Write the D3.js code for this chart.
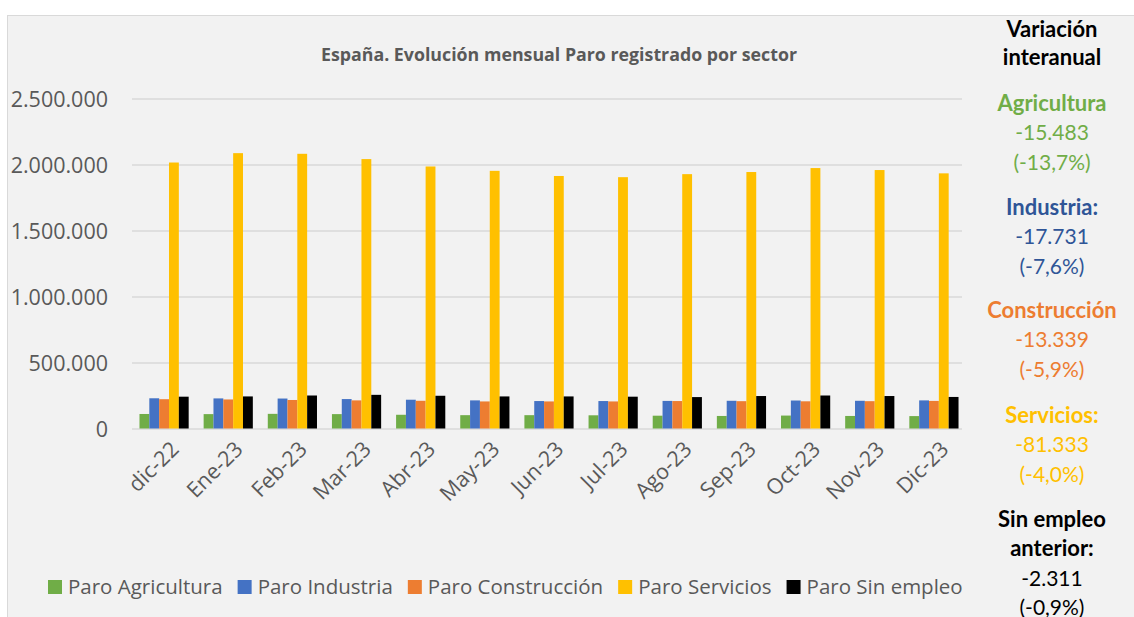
<!DOCTYPE html>
<html>
<head>
<meta charset="utf-8">
<script src="https://cdn.jsdelivr.net/npm/d3@7"></script>
<style>
  html, body { margin: 0; padding: 0; background: #ffffff; }
  svg { display: block; }
</style>
</head>
<body>
<svg id="chart" width="1134" height="617"></svg>
<script>
// ---------- Data ----------
const months = ["dic-22","Ene-23","Feb-23","Mar-23","Abr-23","May-23","Jun-23","Jul-23","Ago-23","Sep-23","Oct-23","Nov-23","Dic-23"];
const seriesNames = ["Paro Agricultura","Paro Industria","Paro Construcción","Paro Servicios","Paro Sin empleo"];
const seriesColors = ["#70ad47","#4472c4","#ed7d31","#ffc000","#000000"];
const agricultura  = [110000,109000,111000,109000,104000,101000,101000,100000, 97000, 95000, 98000, 95000, 94000];
const industria    = [229000,228000,227000,223000,218000,213000,208000,208000,209000,210000,212000,210000,213000];
const construccion = [222000,220000,216000,213000,210000,205000,205000,205000,208000,207000,206000,207000,209000];
const servicios    = [2015000,2086000,2081000,2041000,1985000,1952000,1913000,1904000,1927000,1943000,1973000,1958000,1933000];
const sinEmpleo    = [241000,243000,250000,255000,248000,243000,243000,241000,238000,246000,250000,246000,239000];
const yTicks = [0,500000,1000000,1500000,2000000,2500000];
const title = "España. Evolución mensual Paro registrado por sector";
const sideHeader = ["Variación","interanual"];
const sideBlocks = [
  {lines:["Agricultura"], value:"-15.483", pct:"(-13,7%)", color:"#70ad47"},
  {lines:["Industria:"], value:"-17.731", pct:"(-7,6%)", color:"#2f5597"},
  {lines:["Construcción"], value:"-13.339", pct:"(-5,9%)", color:"#ed7d31"},
  {lines:["Servicios:"], value:"-81.333", pct:"(-4,0%)", color:"#ffc000"},
  {lines:["Sin empleo","anterior:"], value:"-2.311", pct:"(-0,9%)", color:"#000000"}
];

const seriesValues = [agricultura, industria, construccion, servicios, sinEmpleo];

// ---------- Layout ----------
const svg = d3.select("#chart");
const W = 1134, H = 617;
const plot = {left:132, right:966, gridRight:962, top:98.5, bottom:428.5};
const chartFont = "'Open Sans', 'Noto Sans', sans-serif";
const sideFont = "Lato, 'Open Sans', sans-serif";
const textGrey = "#595959";

// panel background
svg.append("rect").attr("x",7.5).attr("y",15.5).attr("width",W-7).attr("height",H-15)
  .attr("fill","#f2f2f2").attr("stroke","#d9d9d9").attr("stroke-width",1);

const x = d3.scaleBand().domain(months).range([plot.left, plot.right]).paddingInner(0).paddingOuter(0);
const xs = d3.scaleBand().domain(seriesNames).range([0, x.bandwidth()]).paddingInner(0).paddingOuter(0.76);
const y = d3.scaleLinear().domain([0,2500000]).range([plot.bottom, plot.top]);

const locale = d3.formatLocale({decimal:",", thousands:".", grouping:[3], currency:["",""]});
const fmt = locale.format(",d");

// gridlines + y labels
const yAxis = d3.axisLeft(y).tickValues(yTicks).tickSize(-(plot.gridRight-plot.left)).tickFormat(fmt).tickPadding(24);
const gy = svg.append("g").attr("transform",`translate(${plot.left},0)`).call(yAxis);
gy.select(".domain").remove();
gy.selectAll(".tick line").attr("stroke","#d9d9d9").attr("stroke-width",1.5);
gy.selectAll(".tick text").attr("fill",textGrey).style("font-family",chartFont).style("font-size","21.5px").attr("dy","0.35em");

// bars
const groups = svg.append("g").selectAll("g").data(months).join("g")
  .attr("transform", d => `translate(${x(d)},0)`);
groups.selectAll("rect")
  .data((m,i) => seriesNames.map((s,j) => ({s, v: seriesValues[j][i], c: seriesColors[j]})))
  .join("rect")
  .attr("x", d => xs(d.s))
  .attr("y", d => y(d.v))
  .attr("width", xs.bandwidth())
  .attr("height", d => y(0) - y(d.v))
  .attr("fill", d => d.c);

// x axis labels
const xAxis = d3.axisBottom(x).tickSize(0).tickPadding(0);
const gx = svg.append("g").attr("transform",`translate(0,${plot.bottom})`).call(xAxis);
gx.select(".domain").remove();
gx.selectAll(".tick text")
  .attr("fill",textGrey).style("font-family",chartFont).style("font-size","21.5px")
  .attr("text-anchor","end")
  .attr("dy","0")
  .attr("transform","translate(16,22) rotate(-45)");

// title
svg.append("text").attr("x",559).attr("y",61).attr("text-anchor","middle")
  .attr("fill",textGrey).style("font-family",chartFont).style("font-size","17.8px").style("font-weight","bold")
  .text(title);

// legend (laid out sequentially)
const legend = svg.append("g");
let lx = 48;
seriesNames.forEach((name,i) => {
  legend.append("rect").attr("x",lx).attr("y",580).attr("width",14).attr("height",14).attr("fill",seriesColors[i]);
  const t = legend.append("text").attr("x",lx+20).attr("y",594).attr("fill",textGrey)
    .style("font-family",chartFont).style("font-size","20.5px").text(name);
  lx += 20 + t.node().getComputedTextLength() + 15;
});

// side panel
const cx = 1052;
const side = svg.append("g").attr("text-anchor","middle").style("font-family",sideFont);
side.append("text").attr("x",cx).attr("y",37).style("font-weight","bold").style("font-size","22px").attr("fill","#000").text(sideHeader[0]);
side.append("text").attr("x",cx).attr("y",65).style("font-weight","bold").style("font-size","22px").attr("fill","#000").text(sideHeader[1]);
const blockStart = [111, 215, 318, 423, 527];
sideBlocks.forEach((b,i) => {
  let yy = blockStart[i];
  b.lines.forEach(l => {
    side.append("text").attr("x",cx).attr("y",yy).style("font-weight","bold").style("font-size","22px").attr("fill",b.color).text(l);
    yy += 29.4;
  });
  side.append("text").attr("x",cx).attr("y",yy).style("font-size","21px").attr("fill",b.color).text(b.value);
  yy += 29.4;
  side.append("text").attr("x",cx).attr("y",yy).style("font-size","21px").attr("fill",b.color).text(b.pct);
});
</script>
</body>
</html>
